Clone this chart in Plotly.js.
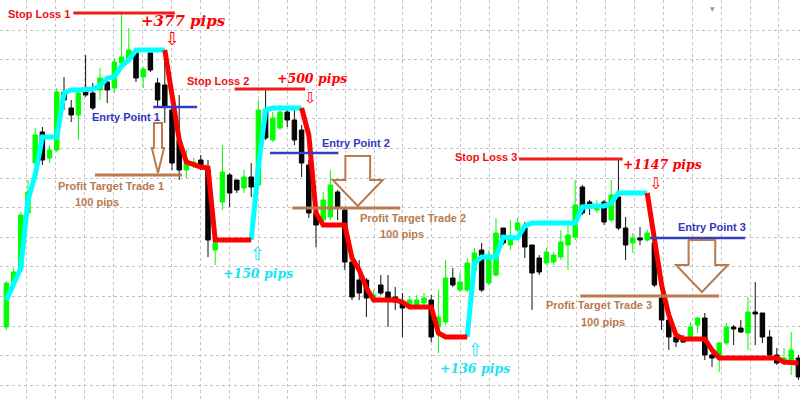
<!DOCTYPE html>
<html><head><meta charset="utf-8">
<script src="https://cdn.plot.ly/plotly-3.0.1.min.js"></script>
<style>html,body{margin:0;padding:0;background:#fff}#chart{width:800px;height:402px}</style>
</head><body><div id="chart"></div>
<script>
// ---- candle data (one entry per bar) ----
const openP = [75,120,134,189,239,270,244,252,310,294,
287,312,309,312,320,314,339,342,349,325,
349,319,317,292,262,232,237,242,232,152,
200,227,222,214,225,217,292,262,274,290,
282,272,237,189,182,185,210,192,140,122,
122,102,117,110,105,100,97,97,99,102,
75,80,124,112,112,132,152,119,127,174,
157,172,174,157,144,139,140,145,157,165,
215,200,192,200,182,205,174,159,164,162,
159,104,82,65,64,65,77,84,47,45,
59,75,74,69,90,89,65,47,40,40,
44];
const highP = [121,134,190,222,274,275,257,314,325,302,
312,347,319,334,324,344,389,374,352,335,
352,324,352,307,307,252,244,247,242,162,
257,229,222,232,239,302,313,290,297,294,
292,277,242,192,210,232,212,195,144,142,
124,112,127,127,115,109,105,107,109,107,
112,142,134,129,144,154,159,152,184,174,
182,184,180,157,147,154,150,172,182,222,
217,202,202,202,222,243,185,169,175,172,
162,112,89,69,67,80,85,89,52,60,
79,77,82,105,120,89,72,54,54,70,
47];
const lowP = [72,117,130,187,237,237,239,250,292,280,
262,305,292,302,299,309,335,340,320,314,
330,295,279,232,222,224,234,232,145,137,
192,195,209,209,205,214,262,260,272,275,
257,225,184,155,179,182,182,132,102,102,
85,99,107,75,92,65,94,95,97,60,
49,77,115,110,110,130,110,117,125,157,
152,170,144,92,127,137,137,142,132,162,
187,187,189,177,180,172,142,149,157,160,
115,72,52,55,59,63,69,42,35,30,
57,57,69,52,57,59,45,37,37,27,
22];
const closeP = [119,130,187,210,267,242,252,310,302,287,
309,307,294,324,312,340,345,352,324,333,
332,302,295,239,232,242,240,235,162,159,
230,209,212,225,215,292,264,284,290,282,
262,239,189,177,202,217,194,140,105,109,
104,107,109,102,100,94,102,102,104,65,
85,124,117,120,139,149,112,147,169,159,
165,179,155,129,130,150,147,160,167,197,
189,198,197,180,207,174,157,164,162,169,
117,82,65,60,60,75,84,47,44,59,
75,73,70,90,88,65,47,39,44,52,
25];
// ---- trend indicator ----
const trendLine = [102,119,134,202,227,265,265,265,309,312,
312,312,313,316,324,325,336,342,352,352,
352,352,352,307,262,240,237,235,234,162,
162,162,162,162,162,235,292,294,294,294,
294,294,267,189,177,177,177,177,144,132,
114,102,102,102,102,100,95,95,95,95,
69,65,65,65,65,139,145,145,145,165,
164,164,176,179,179,179,179,179,179,179,
195,196,196,196,199,209,209,209,209,209,
162,117,87,67,63,63,63,63,52,44,
44,44,44,44,44,44,44,44,40,39,
39];
const trendDir = [1,1,1,1,1,1,1,1,1,1,1,1,1,1,1,1,1,1,1,1,1,1,1,
-1,-1,-1,-1,-1,-1,-1,-1,-1,-1,-1,-1,
1,1,1,1,1,1,1,
-1,-1,-1,-1,-1,-1,-1,-1,-1,-1,-1,-1,-1,-1,-1,-1,-1,-1,-1,-1,-1,-1,-1,
1,1,1,1,1,1,1,1,1,1,1,1,1,1,1,1,1,1,1,1,1,1,1,1,1,
-1,-1,-1,-1,-1,-1,-1,-1,-1,-1,-1,-1,-1,-1,-1,-1,-1,-1,-1,-1,-1];
// ---- trades ----
const stopLossLevel = [389, 313, 243];
const entryLevel = [295, 249, 164];
const targetLevel = [227, 194, 106];
const shortPips = ['+377 pips', '+500 pips', '+1147 pips'];
const longPips = ['+150 pips', '+136 pips'];
const slLabels = ['Stop Loss 1', 'Stop Loss 2', 'Stop Loss 3'];
const entryLabels = ['Enrty Point 1', 'Entry Point 2', 'Entry Point 3'];
const targetLabels = ['Profit Target Trade 1', 'Profit Target Trade 2', 'Profit Target Trade 3'];
const targetPips = ['100 pips', '100 pips', '100 pips'];

const n = openP.length;
const idx = openP.map((_, i) => i);

// bodies
const bodyBase = [], bodyH = [], bodyCol = [];
for (let i = 0; i < n; i++) {
  const lo = Math.min(openP[i], closeP[i]);
  const h = Math.abs(closeP[i] - openP[i]);
  bodyBase.push(lo); bodyH.push(Math.max(h, 0.6));
  bodyCol.push(closeP[i] >= openP[i] ? '#00ff00' : '#000000');
}
// wicks
const wbx = [], wby = [], wrx = [], wry = [];
for (let i = 0; i < n; i++) {
  const bull = closeP[i] >= openP[i];
  (bull ? wbx : wrx).push(i, i, null);
  (bull ? wby : wry).push(lowP[i], highP[i], null);
}
// trend colored segments
const upY = [], dnY = [];
for (let i = 0; i < n; i++) {
  const nxt = i + 1 < n ? trendDir[i + 1] : trendDir[i];
  upY.push(trendDir[i] === 1 || nxt === 1 ? trendLine[i] : null);
  dnY.push(trendDir[i] === -1 || nxt === -1 ? trendLine[i] : null);
}

const traces = [
  {type:'scatter', mode:'lines', x:wbx, y:wby, line:{color:'#00ff00', width:1}, hoverinfo:'skip'},
  {type:'scatter', mode:'lines', x:wrx, y:wry, line:{color:'#111111', width:1}, hoverinfo:'skip'},
  {type:'bar', x:idx, base:bodyBase, y:bodyH, width:0.62, marker:{color:bodyCol, line:{color:bodyCol, width:1}}, hoverinfo:'skip'},
  {type:'scatter', mode:'lines', x:idx, y:upY, connectgaps:false, line:{color:'#00ffff', width:5}, hoverinfo:'skip'},
  {type:'scatter', mode:'lines', x:idx, y:dnY, connectgaps:false, line:{color:'#ff0000', width:5}, hoverinfo:'skip'}
];

// decoration geometry (index units / price units)
const slSpan = [[9.3, 23.4], [31.7, 41.5], [71.2, 85.6]];
const entrySpan = [[20.4, 26.5], [36.6, 46.1], [89.4, 102.6]];
const targetSpan = [[12.3, 24.4], [39.7, 54.7], [79.7, 99.0]];
const arrows = [
  {cx:21.05, top:279, neck:254, tip:229, sw:0.56, hw:0.85},
  {cx:48.8, top:246, neck:222, tip:196, sw:1.72, hw:3.47},
  {cx:96.6, top:162, neck:137, tip:110, sw:1.85, hw:3.6}
];
const BROWN = '#b97a4e', RED = '#ff0000', BLUE = '#3434c4', CYAN = '#18e4f4';
const shapes = [];
for (let k = 0; k < 3; k++) {
  shapes.push({type:'line', xref:'x', yref:'y', x0:slSpan[k][0], x1:slSpan[k][1], y0:stopLossLevel[k], y1:stopLossLevel[k], line:{color:'#ee1c1c', width:3}});
  shapes.push({type:'line', xref:'x', yref:'y', x0:entrySpan[k][0], x1:entrySpan[k][1], y0:entryLevel[k], y1:entryLevel[k], line:{color:'#3040c0', width:2.5}});
  shapes.push({type:'line', xref:'x', yref:'y', x0:targetSpan[k][0], x1:targetSpan[k][1], y0:targetLevel[k], y1:targetLevel[k], line:{color:BROWN, width:3}});
  const a = arrows[k];
  const p = `M ${a.cx-a.sw},${a.top} L ${a.cx+a.sw},${a.top} L ${a.cx+a.sw},${a.neck} L ${a.cx+a.hw},${a.neck} L ${a.cx},${a.tip} L ${a.cx-a.hw},${a.neck} L ${a.cx-a.sw},${a.neck} Z`;
  shapes.push({type:'path', xref:'x', yref:'y', path:p, line:{color:BROWN, width:2}, fillcolor:'rgba(0,0,0,0)'});
}

const lab = 'Liberation Sans';
const sym = 'DejaVu Sans';
const pipsFont = 'DejaVu Serif';
function ann(x, y, text, color, size, family, xanchor, weight) {
  return {x, y, xref:'x', yref:'y', text, showarrow:false, xanchor:xanchor||'center', yanchor:'middle',
    borderpad:0, font:{family, size, color, weight:weight||'normal'}};
}
const annotations = [
  ann(0.1, 388, slLabels[0], '#ee1111', 11, lab, 'left', 'bold'),
  ann(18.6, 381, '<i>'+shortPips[0]+'</i>', RED, 15, pipsFont, 'left', 'bold'),
  ann(23.0, 364, '⇩', RED, 18, sym),
  ann(25.0, 321, slLabels[1], '#ee1111', 11, lab, 'left', 'bold'),
  ann(37.4, 324, '<i>'+shortPips[1]+'</i>', RED, 12.5, pipsFont, 'left', 'bold'),
  ann(42.2, 304, '⇩', RED, 15, sym),
  ann(62.2, 245, slLabels[2], '#ee1111', 11, lab, 'left', 'bold'),
  ann(85.5, 238, '<i>'+shortPips[2]+'</i>', RED, 12.5, pipsFont, 'left', 'bold'),
  ann(90.2, 219, '⇩', RED, 16, sym),
  ann(11.7, 285, entryLabels[0], BLUE, 11, lab, 'left', 'bold'),
  ann(43.7, 259, entryLabels[1], BLUE, 11, lab, 'left', 'bold'),
  ann(93.1, 175, entryLabels[2], BLUE, 11, lab, 'left', 'bold'),
  ann(14.5, 216, targetLabels[0], BROWN, 11, lab, 'center', 'bold'),
  ann(12.6, 200, targetPips[0], BROWN, 11, lab, 'center', 'bold'),
  ann(56.5, 184, targetLabels[1], BROWN, 11, lab, 'center', 'bold'),
  ann(54.9, 168, targetPips[1], BROWN, 11, lab, 'center', 'bold'),
  ann(82.3, 97, targetLabels[2], BROWN, 11, lab, 'center', 'bold'),
  ann(82.9, 80, targetPips[2], BROWN, 11, lab, 'center', 'bold'),
  ann(34.9, 129, '<i>'+longPips[0]+'</i>', CYAN, 12.5, pipsFont, 'center', 'bold'),
  ann(34.9, 149, '⇧', CYAN, 18, sym),
  ann(65.1, 34, '<i>'+longPips[1]+'</i>', CYAN, 12.5, pipsFont, 'center', 'bold'),
  ann(65.2, 53, '⇧', CYAN, 18, sym),
  ann(98.1, 394, '▼', '#999999', 6, sym)
];

const layout = {
  width:800, height:402, margin:{l:0, r:0, t:0, b:0},
  paper_bgcolor:'#ffffff', plot_bgcolor:'#ffffff', showlegend:false,
  xaxis:{range:[-0.889, 110.22], showticklabels:false, ticks:'', zeroline:false, showline:false,
    showgrid:true, tick0:2.86, dtick:4.017, gridcolor:'#c4c4c4', griddash:'3px,3px', gridwidth:1},
  yaxis:{range:[0, 402], showticklabels:false, ticks:'', zeroline:false, showline:false,
    showgrid:true, tick0:16.8, dtick:29.6, gridcolor:'#c4c4c4', griddash:'3px,3px', gridwidth:1},
  shapes, annotations
};
Plotly.newPlot('chart', traces, layout, {staticPlot:true, displayModeBar:false});
</script>
</body></html>
